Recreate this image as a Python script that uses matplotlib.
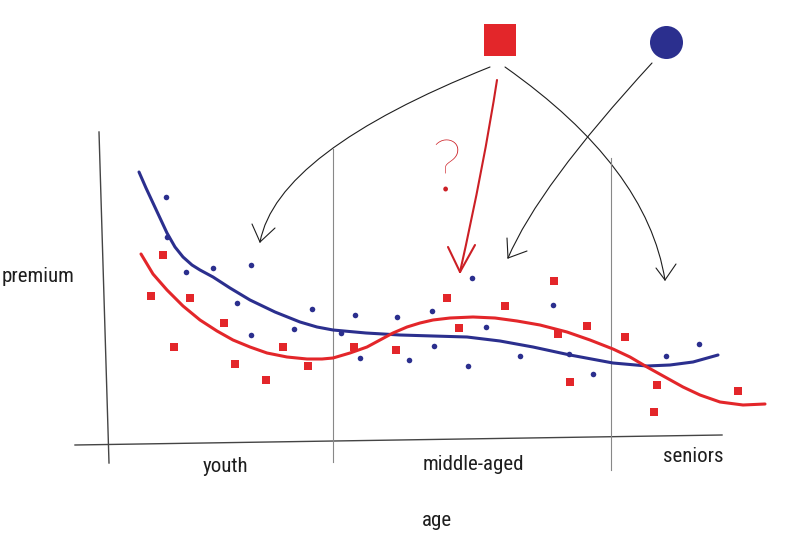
import numpy as np
import matplotlib.pyplot as plt
from matplotlib.path import Path
from matplotlib.patches import PathPatch

# sketch coordinates (x to the right, y downwards, image-like units)
blue_x = [166, 167, 186, 213, 251, 237, 251, 294, 312, 341, 355, 360, 397, 409, 432, 434,
          472, 486, 468, 520, 553, 569, 593, 666, 699]
blue_y = [197, 237, 272, 268, 265, 303, 335, 329, 309, 333, 315, 358, 317, 360, 311, 346,
          278, 327, 366, 356, 305, 354, 374, 356, 344]

red_x = [163, 151, 190, 224, 174, 235, 266, 283, 308, 354, 396, 447, 554, 505, 459, 558,
         587, 625, 570, 657, 654, 738]
red_y = [255, 296, 298, 323, 347, 364, 380, 347, 366, 347, 350, 298, 281, 306, 328, 334,
         326, 337, 382, 385, 412, 391]

blue_curve_x = [139, 146, 153, 160, 167, 175, 183, 192, 200, 213, 230, 250, 275, 300, 317,
                333, 366, 400, 433, 467, 500, 533, 570, 613, 647, 670, 693, 718]
blue_curve_y = [172, 188, 203, 218, 233, 247, 257, 265, 270, 277, 288, 300, 312, 322, 327,
                330, 333, 335, 336, 337, 341, 347, 355, 363, 366, 365, 362, 355]

red_curve_x = [141, 153, 167, 183, 200, 217, 233, 250, 267, 287, 307, 322, 333, 350, 367,
               380, 393, 407, 420, 433, 450, 473, 495, 517, 540, 567, 590, 613, 630, 647,
               665, 683, 700, 720, 743, 765]
red_curve_y = [254, 274, 290, 306, 320, 331, 340, 347, 353, 357, 359, 359, 358, 353, 347,
               340, 333, 327, 323, 320, 318, 317, 318, 321, 325, 332, 340, 349, 357, 367,
               377, 387, 395, 402, 405, 404]

group_labels = ['youth', 'middle-aged', 'seniors']
group_label_x = [225, 473, 693]
group_label_y = [467, 464, 457]
divider_x = [333, 611]

# annotation arrows: start, bezier control, tip, and the two arm ends of the head
arrow_left = [(490, 67), (277, 152), (260, 242)]
arrow_left_arms = [(252, 224), (275, 228)]
arrow_right = [(505, 67), (647, 167), (665, 280)]
arrow_right_arms = [(656, 268), (676, 264)]
arrow_blue = [(652, 63), (538, 187), (508, 258)]
arrow_blue_arms = [(507, 238), (527, 251)]
arrow_red = [(497, 80), (484, 165), (460, 272)]
arrow_red_arms = [(448, 247), (475, 245)]

RED = '#e3262a'
BLUE = '#2b2f8e'
INK = '#1e1e1e'

fig = plt.figure(figsize=(8, 5.48), dpi=100)
ax = fig.add_axes([0, 0, 1, 1])
ax.set_xlim(0, 800)
ax.set_ylim(548, 0)
ax.axis('off')

# axes of the sketch
ax.plot([99, 109], [132, 463], color='#444444', lw=1.0)
ax.plot([75, 722], [445, 435], color='#444444', lw=1.0)
ax.plot([divider_x[0], divider_x[0]], [149, 462], color='#888888', lw=0.8)
ax.plot([divider_x[1], divider_x[1]], [158, 470], color='#888888', lw=0.8)

# data
ax.scatter(blue_x, blue_y, s=16, color=BLUE, zorder=3, linewidths=0)
ax.scatter(red_x, red_y, s=28, marker='s', color=RED, zorder=3, linewidths=0)
ax.plot(blue_curve_x, blue_curve_y, color=BLUE, lw=2.2, solid_capstyle='round',
        solid_joinstyle='round', zorder=2)
ax.plot(red_curve_x, red_curve_y, color=RED, lw=2.2, solid_capstyle='round',
        solid_joinstyle='round', zorder=2)


# arrows
def draw_arrow(pts, arms, color, lw):
    path = Path(pts, [Path.MOVETO, Path.CURVE3, Path.CURVE3])
    ax.add_patch(PathPatch(path, fill=False, edgecolor=color, lw=lw, capstyle='round'))
    tip = pts[-1]
    for a in arms:
        ax.plot([a[0], tip[0]], [a[1], tip[1]], color=color, lw=lw, solid_capstyle='round')


draw_arrow(arrow_left, arrow_left_arms, INK, 0.8)
draw_arrow(arrow_right, arrow_right_arms, INK, 0.8)
draw_arrow(arrow_blue, arrow_blue_arms, INK, 0.8)
draw_arrow(arrow_red, arrow_red_arms, '#cc1f25', 1.5)

# legend symbols at the top
ax.scatter([500], [40], s=530, marker='s', color=RED, linewidths=0)
ax.scatter([666], [42], s=565, marker='o', color=BLUE, linewidths=0)

ax.text(446, 172, '?', color='#cc1f25', fontsize=52, family=['Lato', 'DejaVu Sans'],
        fontweight='light', ha='center', va='center')

font = ['Roboto Condensed', 'Roboto', 'DejaVu Sans']
ax.text(2, 276, 'premium', fontsize=15, family=font, color=INK, ha='left', va='center')
for lab, lx, ly in zip(group_labels, group_label_x, group_label_y):
    ax.text(lx, ly, lab, fontsize=15, family=font, color=INK, ha='center', va='center')
ax.text(437, 521, 'age', fontsize=15, family=font, color=INK, ha='center', va='center')

fig.savefig('out.png', dpi=100)
